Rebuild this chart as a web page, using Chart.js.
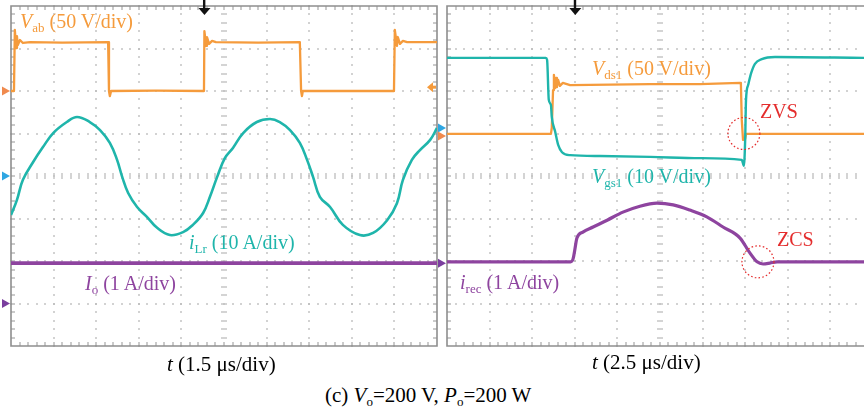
<!DOCTYPE html>
<html>
<head>
<meta charset="utf-8">
<script src="https://cdn.jsdelivr.net/npm/chart.js@4.4.1/dist/chart.umd.min.js"></script>
<style>
  body { margin: 0; background: #fff; width: 864px; height: 409px; overflow: hidden; position: relative;
         font-family: "Liberation Serif", "Times New Roman", serif; }
  canvas { position: absolute; top: 0; }
  #leftChart { left: 0; }
  #rightChart { left: 438px; }
  .lbl { position: absolute; font-size: 20px; line-height: 20px; white-space: nowrap; }
  .axis { font-size: 21px; }
  .s { font-size: 13px; position: relative; top: 4px; }
  .orange { color: #f59b3c; }
  .teal { color: #1fb5ab; }
  .purple { color: #8e449f; }
  .red { color: #e42d2d; }
</style>
</head>
<body>
<canvas id="leftChart" width="445" height="355"></canvas>
<canvas id="rightChart" width="426" height="355"></canvas>

<div class="lbl orange" style="left:20px;top:11px"><i>V</i><span class="s">ab</span> (50 V/div)</div>
<div class="lbl teal" style="left:189px;top:232px"><i>i</i><span class="s">Lr</span> (10 A/div)</div>
<div class="lbl purple" style="left:85px;top:273px"><i>I</i><span class="s">o</span> (1 A/div)</div>

<div class="lbl orange" style="left:592px;top:58px"><i>V</i><span class="s">ds1</span> (50 V/div)</div>
<div class="lbl teal" style="left:592px;top:166px"><i>V</i><span class="s">gs1</span> (10 V/div)</div>
<div class="lbl purple" style="left:460px;top:272px"><i>i</i><span class="s">rec</span> (1 A/div)</div>
<div class="lbl red" style="left:760px;top:101px">ZVS</div>
<div class="lbl red" style="left:777px;top:229px">ZCS</div>

<div class="lbl axis" style="left:167px;top:354px"><i>t</i> (1.5 μs/div)</div>
<div class="lbl axis" style="left:592px;top:352px"><i>t</i> (2.5 μs/div)</div>
<div class="lbl axis" style="left:325px;top:385px">(c) <i>V</i><span class="s">o</span>=200 V, <i>P</i><span class="s">o</span>=200 W</div>

<script>
// values in scope divisions (x: 0..10 div, y: -4..4 div)
// left: t 1.5 us/div
const vabX = [0, 0.07, 0.09, 0.12, 0.14, 0.16, 0.21, 0.28, 0.45, 1.2, 2.28, 2.30, 2.32, 2.35, 3.4, 4.53, 4.54, 4.58, 4.60, 4.65, 4.72, 4.81, 5.8, 6.78, 6.81, 6.83, 6.85, 8.0, 8.99, 9.01, 9.06, 9.08, 9.13, 9.20, 9.30, 10];
const vabY = [2.00, 2.00, 3.44, 3.01, 3.29, 3.08, 3.20, 3.13, 3.15, 3.14, 3.15, 2.00, 1.88, 2.00, 2.01, 2.00, 3.41, 3.06, 3.27, 3.11, 3.18, 3.15, 3.14, 3.15, 2.00, 1.88, 2.00, 2.00, 2.00, 3.44, 3.06, 3.27, 3.11, 3.18, 3.15, 3.15];

const ilrX = [0, 0.14, 0.28, 0.52, 0.75, 0.99, 1.31, 1.55, 1.85, 2.09, 2.32, 2.49, 2.61, 2.75, 2.96, 3.19, 3.43, 3.73, 4.04, 4.27, 4.51, 4.67, 4.84, 5.02, 5.21, 5.45, 5.77, 6.08, 6.31, 6.55, 6.78, 6.95, 7.09, 7.25, 7.49, 7.79, 8.19, 8.50, 8.83, 9.06, 9.20, 9.41, 9.60, 9.84, 10];
const ilrY = [-0.92, -0.56, -0.09, 0.33, 0.68, 1.01, 1.27, 1.39, 1.27, 1.08, 0.78, 0.38, -0.02, -0.40, -0.73, -0.96, -1.22, -1.39, -1.32, -1.15, -0.87, -0.49, -0.02, 0.42, 0.66, 1.01, 1.27, 1.34, 1.27, 1.08, 0.78, 0.38, -0.02, -0.49, -0.73, -1.15, -1.39, -1.34, -1.04, -0.64, -0.09, 0.38, 0.61, 0.85, 1.13];

const ioX = [0, 2.5, 5, 7.5, 10];
const ioY = [-2.05, -2.05, -2.05, -2.05, -2.05];

// right: t 2.5 us/div (only 9.79 div visible)
const vgsX = [0, 2.32, 2.35, 2.39, 2.44, 2.46, 2.54, 2.61, 2.70, 2.89, 3.59, 4.77, 5.94, 6.92, 6.97, 7.00, 7.02, 7.07, 7.14, 7.23, 7.39, 7.70, 9.79];
const vgsY = [2.78, 2.78, 2.73, 1.79, 1.67, 1.39, 1.04, 0.73, 0.56, 0.49, 0.47, 0.45, 0.42, 0.38, 0.24, 0.85, 1.79, 2.14, 2.42, 2.64, 2.75, 2.80, 2.78];

const vdsX = [0, 2.44, 2.46, 2.49, 2.51, 2.54, 2.56, 2.58, 2.61, 2.65, 2.72, 2.89, 4.77, 5.94, 6.88, 6.90, 6.92, 6.95, 7.00, 7.02, 9.79];
const vdsY = [0.99, 0.99, 1.13, 2.02, 2.38, 2.07, 2.31, 2.09, 2.26, 2.12, 2.19, 2.14, 2.16, 2.16, 2.19, 2.16, 1.32, 0.85, 0.87, 0.99, 0.99];

const irecX = [0, 2.90, 2.96, 3.00, 3.05, 3.19, 3.43, 3.76, 4.13, 4.53, 4.93, 5.31, 5.70, 6.10, 6.48, 6.88, 7.11, 7.28, 7.42, 7.58, 7.75, 9.79];
const irecY = [-2.02, -2.02, -1.95, -1.74, -1.46, -1.32, -1.20, -1.04, -0.85, -0.71, -0.64, -0.68, -0.80, -0.96, -1.20, -1.46, -1.81, -2.02, -2.07, -2.05, -2.02, -2.02];

const ORANGE = '#f59b3c', TEAL = '#1fb5ab', PURPLE = '#8e449f', RED = '#e42d2d';

const pts = (xs, ys) => xs.map((v, i) => ({ x: v, y: ys[i] }));

const scope = {
  id: 'scope',
  beforeDatasetsDraw(chart, args, o) {
    const { ctx, chartArea: a, scales: { x, y } } = chart;
    const inside = px => px <= a.right - 1;
    ctx.save();
    // dotted graticule, one dot every 0.2 div
    ctx.fillStyle = '#b9b9b9';
    for (let i = 1; i < 10; i++) {
      if (i === 5) continue;
      const px = Math.round(x.getPixelForValue(i));
      if (!inside(px)) continue;
      for (let k = 0; k <= 40; k++) {
        ctx.fillRect(px - 0.8, Math.round(y.getPixelForValue(-4 + k * 0.2)) - 0.8, 1.6, 1.6);
      }
    }
    for (let j = -3; j <= 3; j++) {
      if (j === 0) continue;
      const py = Math.round(y.getPixelForValue(j));
      for (let k = 0; k <= 50; k++) {
        const px = Math.round(x.getPixelForValue(k * 0.2));
        if (!inside(px)) break;
        ctx.fillRect(px - 0.8, py - 0.8, 1.6, 1.6);
      }
    }
    // centre cross
    ctx.fillStyle = '#c2c2c2';
    const cx = Math.round(x.getPixelForValue(5)), cy = Math.round(y.getPixelForValue(0));
    for (let k = 1; k < 40; k++) {
      ctx.fillRect(cx - 3, Math.round(y.getPixelForValue(-4 + k * 0.2)) - 0.7, 6, 1.4);
    }
    for (let k = 1; k < 50; k++) {
      const px = Math.round(x.getPixelForValue(k * 0.2));
      if (!inside(px)) break;
      ctx.fillRect(px - 0.7, cy - 3, 1.4, 6);
    }
    // edge ticks
    ctx.fillStyle = '#a8a8a8';
    for (let k = 1; k < 50; k++) {
      const px = Math.round(x.getPixelForValue(k * 0.2));
      if (!inside(px)) break;
      ctx.fillRect(px - 0.6, a.top, 1.2, 4);
      ctx.fillRect(px - 0.6, a.bottom - 4, 1.2, 4);
    }
    for (let k = 1; k < 40; k++) {
      const py = Math.round(y.getPixelForValue(-4 + k * 0.2));
      ctx.fillRect(a.left, py - 0.6, 4, 1.2);
      if (o.closed) ctx.fillRect(a.right - 4, py - 0.6, 4, 1.2);
    }
    // frame
    ctx.strokeStyle = '#8e8e8e';
    ctx.lineWidth = 1.6;
    ctx.beginPath();
    if (o.closed) {
      ctx.rect(a.left, a.top, a.right - a.left, a.bottom - a.top);
    } else {
      ctx.moveTo(a.right + 2, a.top);
      ctx.lineTo(a.left, a.top);
      ctx.lineTo(a.left, a.bottom);
      ctx.lineTo(a.right + 2, a.bottom);
    }
    ctx.stroke();
    ctx.restore();
  },
  afterDatasetsDraw(chart, args, o) {
    const { ctx, chartArea: a, scales: { x, y } } = chart;
    ctx.save();
    // channel ground markers
    (o.markers || []).forEach(m => {
      const py = y.getPixelForValue(m.y);
      ctx.fillStyle = m.color;
      ctx.beginPath();
      ctx.moveTo(a.left - 9, py - 4.5);
      ctx.lineTo(a.left - 1, py);
      ctx.lineTo(a.left - 9, py + 4.5);
      ctx.closePath();
      ctx.fill();
    });
    // trigger level marker
    if (o.level) {
      const py = y.getPixelForValue(o.level.y);
      ctx.fillStyle = o.level.color;
      ctx.beginPath();
      ctx.moveTo(a.right - 10, py);
      ctx.lineTo(a.right - 4, py - 5);
      ctx.lineTo(a.right - 4, py + 5);
      ctx.closePath();
      ctx.fill();
      ctx.fillRect(a.right - 5, py - 1.5, 4, 3);
    }
    // trigger position arrow
    if (o.trigger != null) {
      const px = x.getPixelForValue(o.trigger);
      ctx.fillStyle = '#111';
      ctx.fillRect(px - 1, a.top - 6, 2.4, 9);
      ctx.beginPath();
      ctx.moveTo(px - 5.5, a.top + 2);
      ctx.lineTo(px + 6.5, a.top + 2);
      ctx.lineTo(px + 0.5, a.top + 9);
      ctx.closePath();
      ctx.fill();
    }
    // annotation circles
    (o.circles || []).forEach(c => {
      ctx.strokeStyle = RED;
      ctx.lineWidth = 1.2;
      ctx.setLineDash([1.6, 2.2]);
      ctx.beginPath();
      ctx.arc(x.getPixelForValue(c.x), y.getPixelForValue(c.y), 16, 0, Math.PI * 2);
      ctx.stroke();
    });
    ctx.restore();
  }
};

function scopeChart(id, datasets, xMax, padding, opts) {
  return new Chart(document.getElementById(id), {
    type: 'line',
    data: { datasets: datasets.map(d => ({ clip: 0, ...d })) },
    options: {
      responsive: false,
      animation: false,
      events: [],
      layout: { padding },
      elements: { point: { radius: 0 }, line: { borderJoinStyle: 'round' } },
      scales: {
        x: { type: 'linear', min: 0, max: xMax, display: false },
        y: { type: 'linear', min: -4, max: 4, display: false }
      },
      plugins: { legend: { display: false }, tooltip: { enabled: false }, scope: opts }
    },
    plugins: [scope]
  });
}

scopeChart('leftChart', [
  { data: pts(vabX, vabY), borderColor: ORANGE, borderWidth: 2.3, tension: 0 },
  { data: pts(ilrX, ilrY), borderColor: TEAL, borderWidth: 2.6, tension: 0.4 },
  { data: pts(ioX, ioY), borderColor: PURPLE, borderWidth: 3.6, tension: 0 }
], 10, { left: 11, top: 6, right: 8, bottom: 9 }, {
  closed: true,
  trigger: 4.53,
  level: { y: 2.09, color: ORANGE },
  markers: [
    { y: 2.0, color: '#f08a4e' },
    { y: 0, color: '#2ea6e2' },
    { y: -3.0, color: '#7a3e9e' }
  ]
});

scopeChart('rightChart', [
  { data: pts(vgsX, vgsY), borderColor: TEAL, borderWidth: 2.4, cubicInterpolationMode: 'monotone' },
  { data: pts(vdsX, vdsY), borderColor: ORANGE, borderWidth: 2.3, tension: 0 },
  { data: pts(irecX, irecY), borderColor: PURPLE, borderWidth: 3.2, cubicInterpolationMode: 'monotone' }
], 9.79, { left: 9, top: 6, right: 0, bottom: 9 }, {
  closed: false,
  trigger: 3.0,
  markers: [
    { y: 1.13, color: '#2ea6e2' },
    { y: 0.94, color: '#f08a4e' },
    { y: -2.05, color: '#7a3e9e' }
  ],
  circles: [
    { x: 6.97, y: 1.0 },
    { x: 7.30, y: -2.02 }
  ]
});
</script>
</body>
</html>
